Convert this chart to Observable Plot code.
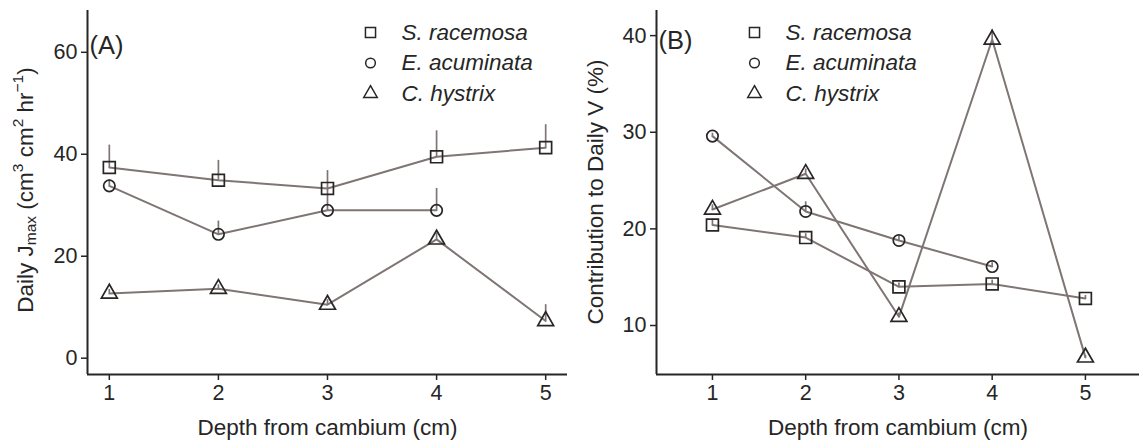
<!DOCTYPE html>
<html>
<head>
<meta charset="utf-8">
<script src="https://cdn.jsdelivr.net/npm/d3@7"></script>
<script src="https://cdn.jsdelivr.net/npm/@observablehq/plot@0.6"></script>
<style>
  html, body { margin: 0; padding: 0; background: #fff; }
  #wrap { display: flex; width: 1139px; height: 441px; }
</style>
</head>
<body>
<div id="wrap"></div>
<script>
// ---- data ----
const depths = [1, 2, 3, 4, 5];
const speciesNames = ["S. racemosa", "E. acuminata", "C. hystrix"];
const speciesSymbols = ["square", "circle", "triangle"];

// Panel A: Daily Jmax (mean, standard error)
const jmaxSracemosa = [37.4, 34.9, 33.3, 39.5, 41.3];
const jmaxSracemosaSE = [4.4, 3.9, 3.5, 5.1, 4.5];
const jmaxEacuminata = [33.8, 24.3, 29.0, 29.0];
const jmaxEacuminataSE = [1.2, 2.6, 4.5, 4.3];
const jmaxChystrix = [12.7, 13.6, 10.5, 23.3, 7.3];
const jmaxChystrixSE = [0.8, 0.8, 1.0, 1.2, 3.2];

// Panel B: Contribution to daily V (%)
const contribSracemosa = [20.4, 19.1, 14.0, 14.3, 12.8];
const contribSracemosaSE = [0.6, 0.4, 0.4, 0.4, 0.3];
const contribEacuminata = [29.6, 21.8, 18.8, 16.1];
const contribEacuminataSE = [0.3, 1.0, 0.4, 0.4];
const contribChystrix = [22.0, 25.7, 10.9, 39.6, 6.7];
const contribChystrixSE = [0.5, 0.5, 0.4, 1.0, 0.2];

const yTicksA = [0, 20, 40, 60];
const yTicksB = [10, 20, 30, 40];

function rows(means, ses, sp) {
  return means.map((v, i) => ({depth: depths[i], value: v, top: v + ses[i], species: sp}));
}

const dataA = [
  rows(jmaxSracemosa, jmaxSracemosaSE, speciesNames[0]),
  rows(jmaxEacuminata, jmaxEacuminataSE, speciesNames[1]),
  rows(jmaxChystrix, jmaxChystrixSE, speciesNames[2])
];
const dataB = [
  rows(contribSracemosa, contribSracemosaSE, speciesNames[0]),
  rows(contribEacuminata, contribEacuminataSE, speciesNames[1]),
  rows(contribChystrix, contribChystrixSE, speciesNames[2])
];

const INK = "#262626";
const LINE = "#7f7573";
const FONT = "'Liberation Sans', Arial, sans-serif";
const symbolR = {square: 6.7, circle: 5.7, triangle: 5.9};

function panel(o) {
  const marks = [
    Plot.axisX({ticks: depths, tickSize: 6, tickPadding: 4, label: null, tickFormat: d => String(d), stroke: INK, strokeWidth: 1.5, fontSize: 21.5, fill: INK}),
    Plot.axisY({ticks: o.yTicks, tickSize: 6, tickPadding: 4, label: null, stroke: INK, strokeWidth: 1.5, fontSize: 21.5, fill: INK}),
    Plot.ruleX([o.xDomain[0]], {stroke: INK, strokeWidth: 2}),
    Plot.ruleY([o.yDomain[0]], {stroke: INK, strokeWidth: 2})
  ];
  o.data.forEach(series => {
    marks.push(Plot.line(series, {x: "depth", y: "value", stroke: LINE, strokeWidth: 2}));
    marks.push(Plot.ruleX(series, {x: "depth", y1: "value", y2: "top", stroke: LINE, strokeWidth: 1.7}));
  });
  o.data.forEach((series, i) => {
    const s = speciesSymbols[i];
    marks.push(Plot.dot(series, {x: "depth", y: "value", symbol: () => s, r: symbolR[s], stroke: INK, strokeWidth: 1.7, fill: "none"}));
  });
  // legend
  speciesNames.forEach((name, i) => {
    const s = speciesSymbols[i];
    marks.push(Plot.dot([name], {frameAnchor: "top-left", dx: o.legendX, dy: o.legendY + i * 30.5, symbol: () => s, r: symbolR[s] * 0.85, stroke: INK, strokeWidth: 1.5, fill: "none"}));
    marks.push(Plot.text([name], {frameAnchor: "top-left", dx: o.legendX + 31, dy: o.legendY + i * 30.5, text: d => d, textAnchor: "start", lineAnchor: "middle", fontStyle: "italic", fontSize: 22.5, fill: INK}));
  });
  // panel tag
  marks.push(Plot.text([o.tag], {frameAnchor: "top-left", dx: 2, dy: o.tagY, text: d => d, textAnchor: "start", lineAnchor: "middle", fontSize: 25.5, fill: INK}));
  // x title
  marks.push(Plot.text(["Depth from cambium (cm)"], {frameAnchor: "bottom", dy: 53, text: d => d, lineAnchor: "middle", fontSize: 22.5, fill: INK}));

  const svg = Plot.plot({
    width: o.width, height: 441,
    marginTop: 10, marginBottom: 67, marginLeft: o.marginLeft, marginRight: o.marginRight,
    x: {type: "linear", domain: o.xDomain},
    y: {type: "linear", domain: o.yDomain},
    style: {fontFamily: FONT, fontSize: "21.5px", color: INK, background: "#fff", overflow: "visible"},
    marks
  });
  o.yTitle(d3.select(svg));
  return svg;
}

function yTitleA(svg) {
  const t = svg.append("text")
    .attr("transform", "translate(27,190) rotate(-90)")
    .attr("text-anchor", "middle")
    .attr("dominant-baseline", "middle")
    .attr("font-family", FONT)
    .attr("font-size", 22.5)
    .attr("fill", INK);
  t.append("tspan").text("Daily J");
  t.append("tspan").attr("font-size", 15.5).attr("dy", 5).text("max");
  t.append("tspan").attr("dy", -5).text(" (cm");
  t.append("tspan").attr("font-size", 15.5).attr("dy", -8).text("3");
  t.append("tspan").attr("dy", 8).text(" cm");
  t.append("tspan").attr("font-size", 15.5).attr("dy", -8).text("2");
  t.append("tspan").attr("dy", 8).text(" hr");
  t.append("tspan").attr("font-size", 15.5).attr("dy", -8).text("\u22121");
  t.append("tspan").attr("dy", 8).text(")");
}
function yTitleB(svg) {
  svg.append("text")
    .attr("transform", "translate(27,192) rotate(-90)")
    .attr("text-anchor", "middle")
    .attr("dominant-baseline", "middle")
    .attr("font-family", FONT)
    .attr("font-size", 22.5)
    .attr("fill", INK)
    .text("Contribution to Daily V (%)");
}

const wrap = document.getElementById("wrap");
wrap.appendChild(panel({
  width: 570, marginLeft: 87, marginRight: 3,
  xDomain: [0.8, 5.2], yDomain: [-3.2, 68.2], yTicks: yTicksA,
  data: dataA, legendX: 283, legendY: 22, tag: "(A)", tagY: 35, yTitle: yTitleA
}));
wrap.appendChild(panel({
  width: 569, marginLeft: 86, marginRight: 0,
  xDomain: [0.4, 5.58], yDomain: [4.93, 42.6], yTicks: yTicksB,
  data: dataB, legendX: 98, legendY: 22, tag: "(B)", tagY: 30, yTitle: yTitleB
}));
</script>
</body>
</html>
